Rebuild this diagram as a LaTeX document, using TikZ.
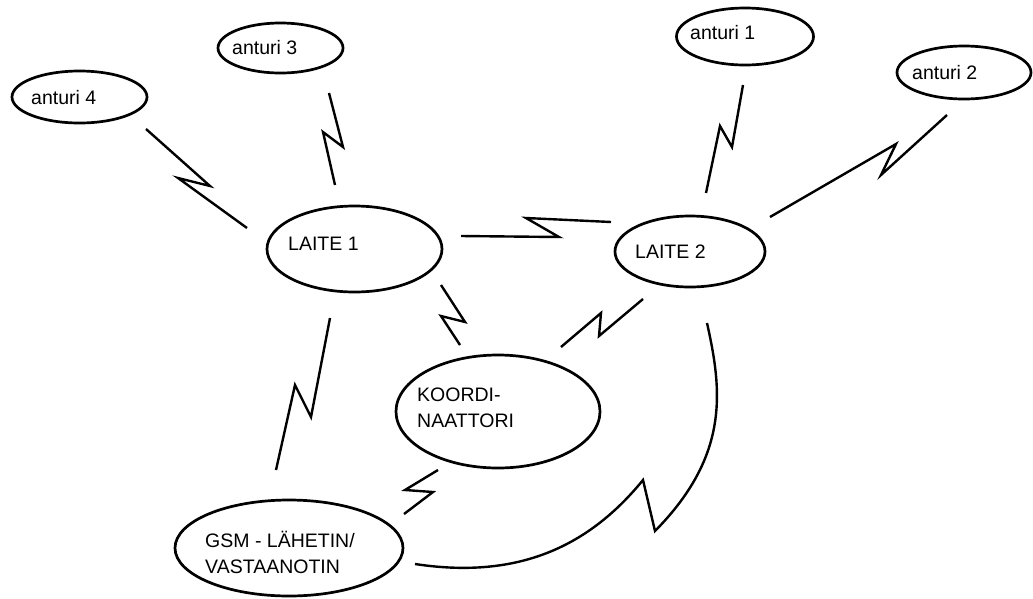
\documentclass[tikz,border=0pt]{standalone}
\usepackage{fontspec}
\setmainfont{Liberation Sans}
\usetikzlibrary{shapes.geometric}
\begin{document}
\begin{tikzpicture}[x=1pt,y=-1pt]
    \tikzstyle{oval}=[draw,ellipse,line width=2.7pt,inner sep=0pt]
    \tikzstyle{txt}=[anchor=base west,inner sep=0pt,align=left,font=\fontsize{19.5}{26}\selectfont]
    \tikzstyle{bolt}=[line width=2.4pt,line join=miter]
    \useasboundingbox(0,0)rectangle(1033,598);
    % sensors
    \draw node[oval,minimum width=135pt,minimum height=52pt](a4)at(79.5,97){}
          node[oval,minimum width=125pt,minimum height=50pt](a3)at(280.5,48){}
          node[oval,minimum width=137pt,minimum height=57pt](a1)at(745,36.5){}
          node[oval,minimum width=134pt,minimum height=53pt](a2)at(964,72.5){};
    % devices
    \draw node[oval,minimum width=175pt,minimum height=86pt](l1)at(354.5,249){}
          node[oval,minimum width=150pt,minimum height=71pt](l2)at(690,251.5){}
          node[oval,minimum width=204pt,minimum height=113pt](ko)at(498,411.5){}
          node[oval,minimum width=228pt,minimum height=96pt](gsm)at(289,548){};
    \path node[txt](a4t)at(31,104){anturi 4}
          node[txt](a3t)at(232,54){anturi 3}
          node[txt](a1t)at(690,39){anturi 1}
          node[txt](a2t)at(912,79){anturi 2}
          node[txt](l1t)at(288,250){LAITE 1}
          node[txt](l2t)at(635,258){LAITE 2}
          node[txt](kot)at(417,427){KOORDI-\\NAATTORI}
          node[txt](gsmt)at(205,573){GSM - LÄHETIN/\\VASTAANOTIN};
    % link ends
    \path coordinate(a4-l1)at(146,129) coordinate(l1-a4)at(247,228)
          coordinate(a3-l1)at(329,93)  coordinate(l1-a3)at(335,185)
          coordinate(a1-l2)at(743,85)  coordinate(l2-a1)at(706,193)
          coordinate(a2-l2)at(947,115) coordinate(l2-a2)at(770,217)
          coordinate(l1-l2)at(461,236) coordinate(l2-l1)at(611,222)
          coordinate(l1-ko)at(441,285) coordinate(ko-l1)at(460,345)
          coordinate(l2-ko)at(643,299) coordinate(ko-l2)at(561,347)
          coordinate(l1-gsm)at(330,318) coordinate(gsm-l1)at(276,470)
          coordinate(ko-gsm)at(438,470) coordinate(gsm-ko)at(404,514)
          coordinate(l2-gsm)at(707,323) coordinate(gsm-l2)at(415,564);
    \draw[bolt](a4-l1)--(210,186)--(178,178)--(l1-a4);
    \draw[bolt](a3-l1)--(343,147)--(323,132)--(l1-a3);
    \draw[bolt](a1-l2)--(732,147)--(720,126)--(l2-a1);
    \draw[bolt](a2-l2)--(881,175)--(896,144)--(l2-a2);
    \draw[bolt](l1-l2)--(559,237)--(526,218)--(l2-l1);
    \draw[bolt](l1-ko)--(465,322)--(441,316)--(ko-l1);
    \draw[bolt](l2-ko)--(599,336)--(601,313)--(ko-l2);
    \draw[bolt](l1-gsm)--(311,417)--(295,385)--(gsm-l1);
    \draw[bolt](ko-gsm)--(405,490)--(433,492)--(gsm-ko);
    \draw[bolt](l2-gsm)..controls(722,390)and(730,455)..(655,531)--(643,480)
          ..controls(590,545)and(520,580)..(gsm-l2);
\end{tikzpicture}
\end{document}
